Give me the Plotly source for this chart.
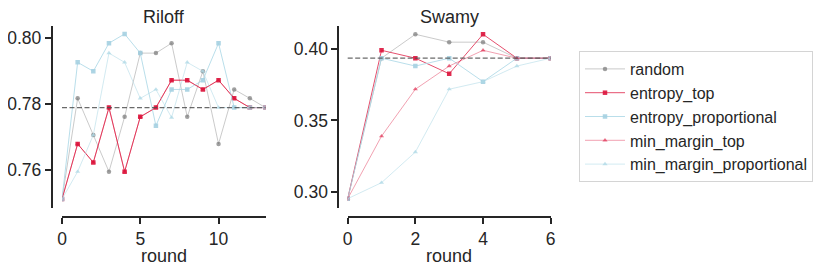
import plotly.graph_objects as go

# ---------------- data ----------------
riloff_rounds = list(range(14))
riloff_random = [0.7513, 0.7818, 0.7707, 0.7596, 0.7762, 0.7955, 0.7955, 0.7985, 0.7762, 0.7900, 0.7680, 0.7845, 0.7818, 0.7790]
riloff_entropy_top = [0.7513, 0.7680, 0.7624, 0.7790, 0.7596, 0.7762, 0.7790, 0.7873, 0.7873, 0.7845, 0.7873, 0.7818, 0.7790, 0.7790]
riloff_entropy_prop = [0.7513, 0.7927, 0.7900, 0.7985, 0.8013, 0.7955, 0.7735, 0.7845, 0.7845, 0.7873, 0.7985, 0.7790, 0.7790, 0.7790]
riloff_min_margin_top = [0.7513, 0.7680, 0.7624, 0.7790, 0.7596, 0.7762, 0.7790, 0.7873, 0.7873, 0.7845, 0.7873, 0.7818, 0.7790, 0.7790]
riloff_min_margin_prop = [0.7513, 0.7596, 0.7707, 0.7955, 0.7927, 0.7818, 0.7845, 0.7760, 0.7927, 0.7900, 0.7790, 0.7790, 0.7790, 0.7790]
riloff_baseline = 0.7790

swamy_rounds = list(range(7))
swamy_random = [0.2953, 0.3935, 0.4102, 0.4047, 0.4047, 0.3935, 0.3935]
swamy_entropy_top = [0.2953, 0.3990, 0.3935, 0.3826, 0.4102, 0.3935, 0.3935]
swamy_entropy_prop = [0.2953, 0.3935, 0.3880, 0.3935, 0.3771, 0.3935, 0.3935]
swamy_min_margin_top = [0.2953, 0.3390, 0.3718, 0.3880, 0.3990, 0.3935, 0.3935]
swamy_min_margin_prop = [0.2953, 0.3065, 0.3279, 0.3718, 0.3771, 0.3880, 0.3935]
swamy_baseline = 0.3935

riloff_xticks = [0, 5, 10]
riloff_yticks = [0.76, 0.78, 0.80]
swamy_xticks = [0, 2, 4, 6]
swamy_yticks = [0.30, 0.35, 0.40]

series_names = ["random", "entropy_top", "entropy_proportional", "min_margin_top", "min_margin_proportional"]

# ---------------- styles ----------------
styles = {
    "random": dict(line="rgba(128,128,128,0.42)", marker="rgba(120,120,120,0.7)", symbol="circle"),
    "entropy_top": dict(line="rgba(220,20,60,0.75)", marker="rgba(220,20,60,0.9)", symbol="square"),
    "entropy_proportional": dict(line="rgba(173,216,230,0.85)", marker="rgba(165,208,225,0.9)", symbol="square"),
    "min_margin_top": dict(line="rgba(220,20,60,0.4)", marker="rgba(220,20,60,0.6)", symbol="triangle-up"),
    "min_margin_proportional": dict(line="rgba(173,216,230,0.55)", marker="rgba(173,216,230,0.75)", symbol="triangle-up"),
}

riloff_data = [riloff_random, riloff_entropy_top, riloff_entropy_prop, riloff_min_margin_top, riloff_min_margin_prop]
swamy_data = [swamy_random, swamy_entropy_top, swamy_entropy_prop, swamy_min_margin_top, swamy_min_margin_prop]

fig = go.Figure()

for name, ys in zip(series_names, riloff_data):
    st = styles[name]
    fig.add_trace(go.Scatter(
        x=riloff_rounds, y=ys, mode="lines+markers", name=name, showlegend=False,
        line=dict(color=st["line"], width=1),
        marker=dict(symbol=st["symbol"], size=4.5, color=st["marker"]),
        xaxis="x", yaxis="y", legendgroup=name,
    ))

for name, ys in zip(series_names, swamy_data):
    st = styles[name]
    fig.add_trace(go.Scatter(
        x=swamy_rounds, y=ys, mode="lines+markers", name=name, showlegend=True,
        line=dict(color=st["line"], width=1),
        marker=dict(symbol=st["symbol"], size=4.5, color=st["marker"]),
        xaxis="x2", yaxis="y2", legendgroup=name,
    ))

# baselines
fig.add_shape(type="line", xref="x domain", yref="y", x0=0, x1=1, y0=riloff_baseline, y1=riloff_baseline,
              line=dict(color="rgba(80,80,80,0.85)", width=1.3, dash="5px,2.5px"))
fig.add_shape(type="line", xref="x2 domain", yref="y2", x0=0, x1=1, y0=swamy_baseline, y1=swamy_baseline,
              line=dict(color="rgba(80,80,80,0.85)", width=1.3, dash="5px,2.5px"))

# page has an 8px body margin; lay out in window pixels then convert
OFF = 8
W, H = 830 - OFF, 273 - OFF


def px(x):
    return (x - OFF) / W


def py(y):
    return 1 - (y - OFF) / H


FONT = "Liberation Sans, Arial, sans-serif"
INK = "#262626"
axis_common = dict(showline=True, linecolor=INK, linewidth=1.8, ticks="outside", ticklen=6,
                   tickwidth=1.8, tickcolor=INK, showgrid=False, zeroline=False, automargin=False,
                   tickfont=dict(size=17.5, color=INK, family=FONT), anchor="free")


def label(text, x, y):
    return dict(text=text, x=px(x), y=py(y), xref="paper", yref="paper", showarrow=False,
                xanchor="center", yanchor="middle", font=dict(size=18, family=FONT, color=INK))


fig.update_layout(
    width=W, height=H, margin=dict(l=0, r=0, t=0, b=0, autoexpand=False),
    paper_bgcolor="white", plot_bgcolor="white",
    font=dict(family=FONT, color=INK),
    xaxis=dict(domain=[px(62), px(265.5)], range=[0, 13], tickvals=riloff_xticks,
               position=py(217), **axis_common),
    yaxis=dict(domain=[py(208), py(25.7)], range=[0.7486, 0.8038], tickvals=riloff_yticks,
               tickformat=".2f", position=px(51.7), **axis_common),
    xaxis2=dict(domain=[px(347.7), px(550.7)], range=[0, 6], tickvals=swamy_xticks,
                position=py(217), **axis_common),
    yaxis2=dict(domain=[py(208), py(25.7)], range=[0.2888, 0.4162], tickvals=swamy_yticks,
                tickformat=".2f", position=px(338.3), **axis_common),
    legend=dict(x=px(579), y=py(51), xanchor="left", yanchor="top",
                bordercolor="#d4d4d4", borderwidth=1, bgcolor="white", itemwidth=40,
                font=dict(size=16, family=FONT, color=INK), traceorder="normal"),
    annotations=[
        label("Riloff", 163.7, 17),
        label("Swamy", 449.2, 17),
        label("round", 163.7, 256),
        label("round", 449.2, 256),
    ],
)

fig.write_html("out.html")
